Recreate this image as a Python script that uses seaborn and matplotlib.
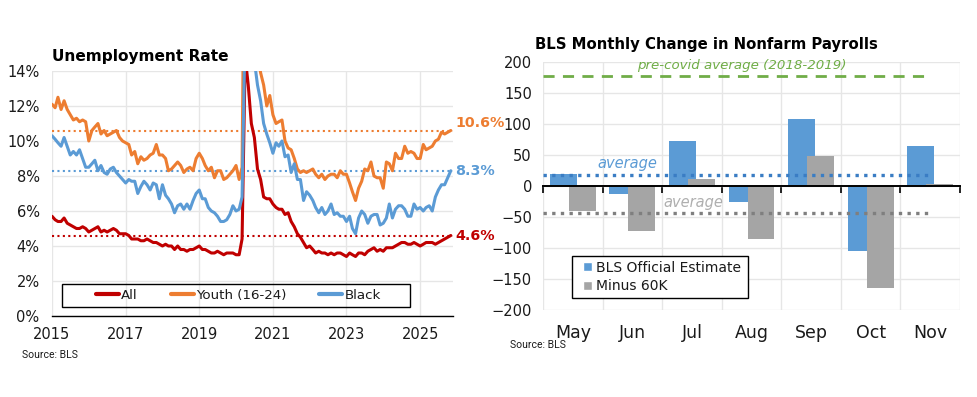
import numpy as np
import pandas as pd
import matplotlib
matplotlib.use("Agg")
import matplotlib.pyplot as plt
import matplotlib.dates as mdates
import matplotlib.transforms as mtransforms
from matplotlib.lines import Line2D
from matplotlib.patches import Patch, Rectangle
import seaborn as sns

# ---------------- data ----------------
all_rate = [
    5.7, 5.5, 5.4, 5.4, 5.6, 5.3, 5.2, 5.1, 5.0, 5.0, 5.1, 5.0,
    4.8, 4.9, 5.0, 5.1, 4.8, 4.9, 4.8, 4.9, 5.0, 4.9, 4.7, 4.7,
    4.7, 4.6, 4.4, 4.4, 4.4, 4.3, 4.3, 4.4, 4.3, 4.2, 4.2, 4.1,
    4.0, 4.1, 4.0, 4.0, 3.8, 4.0, 3.8, 3.8, 3.7, 3.8, 3.8, 3.9,
    4.0, 3.8, 3.8, 3.7, 3.6, 3.6, 3.7, 3.6, 3.5, 3.6, 3.6, 3.6,
    3.5, 3.5, 4.4, 14.8, 13.2, 11.0, 10.2, 8.4, 7.8, 6.8, 6.7, 6.7,
    6.4, 6.2, 6.1, 6.1, 5.8, 5.9, 5.4, 5.1, 4.7, 4.5, 4.2, 3.9,
    4.0, 3.8, 3.6, 3.7, 3.6, 3.6, 3.5, 3.6, 3.5, 3.6, 3.6, 3.5,
    3.4, 3.6, 3.5, 3.4, 3.6, 3.6, 3.5, 3.7, 3.8, 3.9, 3.7, 3.8,
    3.7, 3.9, 3.9, 3.9, 4.0, 4.1, 4.2, 4.2, 4.1, 4.1, 4.2, 4.1,
    4.0, 4.1, 4.2, 4.2, 4.2, 4.1, 4.2, 4.3, 4.4, 4.6,
]
youth_rate = [
    12.1, 11.9, 12.5, 11.8, 12.3, 11.8, 11.5, 11.2, 11.3, 11.1, 11.2, 11.1,
    10.0, 10.6, 10.8, 11.0, 10.4, 10.6, 10.3, 10.4, 10.5, 10.6, 10.2, 10.0,
    9.9, 9.8, 9.2, 9.4, 8.7, 9.1, 8.9, 9.0, 9.2, 9.3, 9.8, 9.2,
    9.2, 9.0, 8.3, 8.4, 8.6, 8.8, 8.6, 8.2, 8.4, 8.5, 8.3, 9.0,
    9.3, 9.0, 8.6, 8.3, 8.5, 7.9, 8.3, 8.3, 7.8, 7.9, 8.1, 8.3,
    8.6, 7.8, 8.5, 27.4, 24.0, 20.0, 18.2, 15.0, 13.9, 13.2, 12.0, 12.6,
    11.5, 11.0, 11.1, 11.2, 10.0, 9.6, 9.5, 9.0, 8.4, 8.2, 8.3, 8.2,
    8.3, 8.4, 8.1, 7.9, 8.1, 7.8, 8.0, 8.1, 8.1, 7.9, 8.3, 8.1,
    8.1, 7.6, 7.1, 6.6, 7.3, 7.7, 8.4, 8.3, 8.8, 8.0, 7.9, 7.9,
    7.3, 8.8, 8.7, 8.3, 9.3, 9.0, 9.0, 9.7, 9.3, 9.4, 9.3, 9.0,
    9.0, 9.8, 9.5, 9.6, 9.7, 10.0, 10.1, 10.5, 10.4, 10.6,
]
black_rate = [
    10.3, 10.1, 9.9, 9.7, 10.2, 9.7, 9.2, 9.4, 9.2, 9.5, 9.0, 8.5,
    8.5, 8.7, 8.9, 8.3, 8.6, 8.2, 8.1, 8.4, 8.5, 8.2, 8.0, 7.8,
    7.6, 7.8, 7.7, 7.7, 7.0, 7.4, 7.7, 7.5, 7.2, 7.6, 7.5, 6.7,
    7.5, 6.9, 6.7, 6.4, 5.9, 6.3, 6.4, 6.1, 6.4, 6.1, 6.6, 7.0,
    7.2, 6.7, 6.7, 6.2, 6.0, 5.9, 5.7, 5.4, 5.4, 5.5, 5.8, 6.3,
    6.0, 6.1, 6.8, 16.7, 16.8, 15.4, 14.6, 13.2, 12.3, 11.0, 10.4, 9.9,
    9.3, 9.9, 9.7, 10.0, 9.1, 9.2, 8.2, 8.7, 7.8, 7.8, 6.6, 7.1,
    6.9, 6.6, 6.2, 5.9, 6.2, 5.8, 6.0, 6.4, 5.8, 5.9, 5.7, 5.7,
    5.4, 5.7, 5.0, 4.7, 5.6, 6.0, 5.8, 5.3, 5.7, 5.8, 5.8, 5.2,
    5.3, 5.6, 6.4, 5.6, 6.1, 6.3, 6.3, 6.1, 5.7, 5.7, 6.4, 6.1,
    6.2, 6.0, 6.2, 6.3, 6.0, 6.8, 7.2, 7.5, 7.5, 8.3,
]
series_names = ["All", "Youth (16-24)", "Black"]
latest_values = [4.6, 10.6, 8.3]
year_ticks = [2015, 2017, 2019, 2021, 2023, 2025]

months = pd.date_range("2015-01-01", "2025-11-01", freq="MS")
months = months[months != pd.Timestamp("2025-10-01")]  # no Oct-2025 release

payroll_months = ["May", "Jun", "Jul", "Aug", "Sep", "Oct", "Nov"]
bls_official = [19, -13, 72, -26, 108, -105, 64]
minus_60k = [-41, -73, 12, -86, 48, -165, 4]
bar_series = ["BLS Official Estimate", "Minus 60K"]
avg_official = 17
avg_minus = -43
precovid_avg = 178

# ---------------- style ----------------
sns.set_style("white")
plt.rcParams["font.family"] = ["DejaVu Sans"]
TXT = "#1a1a1a"
RED, ORANGE, BLUE = "#C00000", "#ED7D31", "#5B9BD5"
GRAY, GREEN = "#A5A5A5", "#70AD47"
GRID = "#E6E6E6"

fig = plt.figure(figsize=(9.77, 3.97), dpi=100)
ax1 = fig.add_axes([52 / 977, 1 - 316 / 397, 401 / 977, 245 / 397])
ax2 = fig.add_axes([543 / 977, 1 - 310 / 397, 417 / 977, 248 / 397])

# ---------------- left: unemployment ----------------
df = pd.DataFrame({
    "date": np.concatenate([months] * 3),
    "rate": all_rate + youth_rate + black_rate,
    "series": np.repeat(series_names, len(months)),
})
colors = [RED, ORANGE, BLUE]
pal = dict(zip(series_names, colors))
for name, val in zip(series_names, latest_values):
    ax1.axhline(val, color=pal[name], ls=(0, (1, 1.6)), lw=1.5, zorder=1)
sns.lineplot(data=df, x="date", y="rate", hue="series", hue_order=series_names,
             palette=pal, linewidth=2.2, ax=ax1, legend=False, zorder=3)

ax1.set_ylim(0, 14)
ax1.set_yticks(np.arange(0, 15, 2))
ax1.yaxis.set_major_formatter(matplotlib.ticker.FuncFormatter(lambda v, p: f"{v:.0f}%"))
ax1.set_xlim(mdates.date2num(pd.Timestamp("2015-01-01")), mdates.date2num(pd.Timestamp("2025-11-23")))
ax1.set_xticks([mdates.date2num(pd.Timestamp(f"{y}-01-01")) for y in year_ticks])
ax1.set_xticks([mdates.date2num(pd.Timestamp(f"{y}-01-01")) for y in range(2016, 2026, 2)], minor=True)
ax1.xaxis.set_major_formatter(mdates.DateFormatter("%Y"))
ax1.set_xlabel("")
ax1.set_ylabel("")
ax1.grid(True, which="major", color=GRID, lw=1)
for s in ["top", "right", "left"]:
    ax1.spines[s].set_visible(False)
ax1.spines["bottom"].set_color("black")
ax1.spines["bottom"].set_linewidth(1.0)
ax1.tick_params(axis="y", length=0, pad=9, labelsize=10.5, labelcolor=TXT)
ax1.tick_params(axis="x", which="both", length=4, color="black", direction="out", width=1,
                pad=4, labelsize=10.5, labelcolor=TXT)

trans = mtransforms.blended_transform_factory(ax1.transAxes, ax1.transData)
label_offset = {"Youth (16-24)": 0.45, "Black": 0.0, "All": 0.0}
for name, val in zip(series_names, latest_values):
    ax1.text(1.006, val + label_offset[name], f"{val:.1f}%", transform=trans, color=pal[name],
             fontsize=10.3, fontweight="bold", va="center", ha="left", clip_on=False)

handles = [Line2D([0], [0], color=c, lw=3) for c in colors]
leg1 = ax1.legend(handles, series_names, ncol=3, loc="center left",
                  bbox_to_anchor=((96 - 52) / 401, (316 - 295.5) / 245),
                  frameon=False, fontsize=9.6, handlelength=1.75, handletextpad=0.15,
                  borderpad=0, borderaxespad=0, columnspacing=2.45)
for t in leg1.get_texts():
    t.set_color(TXT)
ax1.add_patch(Rectangle(((62 - 52) / 401, (316 - 307) / 245), 348 / 401, 23 / 245,
                        transform=ax1.transAxes, facecolor="none", edgecolor="black",
                        lw=1.0, zorder=6, clip_on=False))

fig.text(52 / 977, 1 - 57 / 397, "Unemployment Rate", ha="left", va="center",
         fontsize=11.1, fontweight="bold", color="black")
fig.text(22 / 977, 1 - 355 / 397, "Source: BLS", ha="left", va="center",
         fontsize=7.5, color=TXT, family=["Roboto", "DejaVu Sans"])

# ---------------- right: payrolls ----------------
df2 = pd.DataFrame({
    "month": payroll_months * 2,
    "value": bls_official + minus_60k,
    "series": np.repeat(bar_series, len(payroll_months)),
})
sns.barplot(data=df2, x="month", y="value", hue="series", hue_order=bar_series,
            palette=[BLUE, GRAY], dodge=True, width=0.64, saturation=1,
            ax=ax2, legend=False, zorder=2)
bar_w = 0.45
for p in ax2.patches:
    c = p.get_x() + p.get_width() / 2
    p.set_x(c - bar_w / 2)
    p.set_width(bar_w)
    p.set_edgecolor("none")

n = len(payroll_months)
ax2.hlines(precovid_avg, -0.5, n - 1, color=GREEN, ls=(0, (4, 3)), lw=2, zorder=4)
ax2.hlines(avg_official, -0.5, n - 1, color="#3A7DC4", ls=(0, (1, 1.6)), lw=2.4, zorder=4)
ax2.hlines(avg_minus, -0.5, n - 1, color="#7F7F7F", ls=(0, (1, 1.6)), lw=2.4, zorder=4)
ax2.text(0.91, avg_official + 20, "average", color=BLUE, fontsize=10.5, style="italic",
         ha="center", va="center", zorder=5)
ax2.text(2.02, avg_minus + 17, "average", color="#AFAFAF", fontsize=10.5, style="italic",
         ha="center", va="center", zorder=5)
ax2.text(2.84, precovid_avg + 17, "pre-covid average (2018-2019)", color=GREEN, fontsize=9.6,
         style="italic", ha="center", va="center", zorder=5)

ax2.set_xlim(-0.5, n - 0.5)
ax2.set_ylim(-200, 200)
ax2.set_yticks(np.arange(-200, 201, 50))
ax2.set_xticks(np.arange(-0.5, n, 1), minor=True)
ax2.set_xlabel("")
ax2.set_ylabel("")
ax2.grid(True, which="major", axis="y", color=GRID, lw=1, zorder=0)
ax2.grid(True, which="minor", axis="x", color=GRID, lw=1, zorder=0)
ax2.grid(False, which="major", axis="x")
ax2.set_axisbelow(True)
for s in ["right", "left", "bottom"]:
    ax2.spines[s].set_visible(False)
ax2.spines["top"].set_position(("data", 0))
ax2.spines["top"].set_color("black")
ax2.spines["top"].set_linewidth(1.4)
ax2.spines["top"].set_zorder(6)
ax2.tick_params(axis="x", which="minor", top=True, bottom=False, direction="in",
                length=5, width=1.2, color="black")
ax2.tick_params(axis="x", which="major", top=False, bottom=True, length=0, pad=10,
                labelsize=12.5, labelcolor=TXT)
ax2.tick_params(axis="y", length=0, pad=8, labelsize=10.5, labelcolor=TXT)

bar_handles = [Patch(facecolor=BLUE), Patch(facecolor=GRAY)]
leg2 = ax2.legend(bar_handles, bar_series, loc="center left",
                  bbox_to_anchor=((583 - 543) / 417, (310 - 277) / 248),
                  frameon=False, fontsize=10, handlelength=0.65, handleheight=0.65,
                  handletextpad=0.25, borderpad=0, labelspacing=0.35, borderaxespad=0)
for t in leg2.get_texts():
    t.set_color(TXT)
leg2.set_zorder(7)
ax2.add_patch(Rectangle(((572 - 543) / 417, (310 - 298) / 248), 176 / 417, 42 / 248,
                        transform=ax2.transAxes, facecolor="white", edgecolor="black",
                        lw=1.0, zorder=6.5, clip_on=False))

fig.text(706 / 977, 1 - 45 / 397, "BLS Monthly Change in Nonfarm Payrolls", ha="center",
         va="center", fontsize=10.7, fontweight="bold", color="black")
fig.text(510 / 977, 1 - 345 / 397, "Source: BLS", ha="left", va="center",
         fontsize=7.5, color=TXT, family=["Roboto", "DejaVu Sans"])

fig.savefig("out.png", dpi=100)
